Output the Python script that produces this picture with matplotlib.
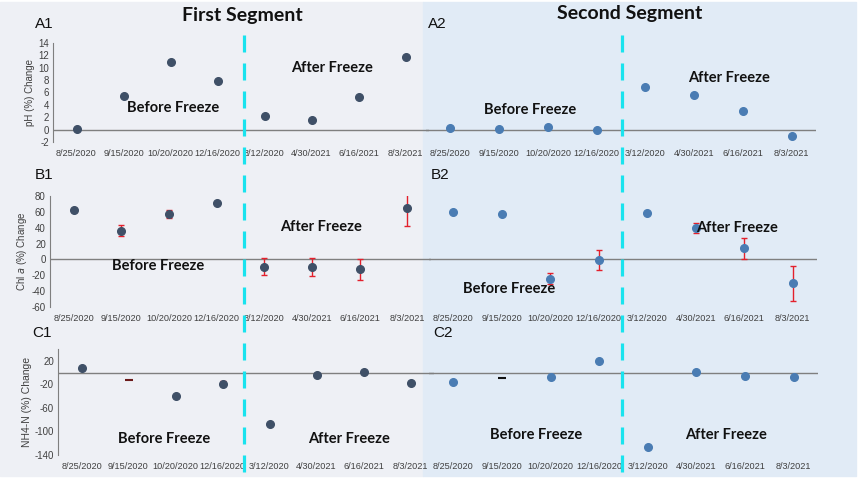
import matplotlib.pyplot as plt
from matplotlib.patches import Rectangle
from matplotlib.lines import Line2D

# sampling dates (x categories)
dates = ["8/25/2020", "9/15/2020", "10/20/2020", "12/16/2020",
         "3/12/2020", "4/30/2021", "6/16/2021", "8/3/2021"]

# pH (%) change
ph_first = [0.1, 5.5, 11.0, 7.9, 2.2, 1.6, 5.2, 11.7]
ph_second = [0.3, 0.1, 0.5, -0.1, 6.9, 5.6, 3.0, -1.1]

# Chl a (%) change and error
chl_first = [62.2, 36.2, 57.1, 70.6, -9.2, -9.2, -12.6, 64.7]
chl_first_err = [3, 7, 5, 0, 11, 11.5, 13, 22]
chl_second = [59.3, 57.6, -24.3, -1.3, 58.4, 39.5, 13.9, -30.3]
chl_second_err = [0, 0, 7, 12.6, 0, 6, 13.5, 21.6]

# NH4-N (%) change and error
nh4_first = [8.2, -12.2, -40.4, -19.0, -86.9, -4.2, 0.3, -18.4]
nh4_first_err = [0, 0, 3, 4, 0, 0, 0, 0]
nh4_second = [-15.8, -9.9, -7.9, 20.0, -126.0, 1.0, -5.0, -7.9]
nh4_second_err = [0, 0, 2, 0, 0, 0, 0, 0]

# points shown only as a dash (no dot)
dash_only = [1]

W, H = 858, 484
fig = plt.figure(figsize=(W / 100, H / 100), dpi=100)
fig.patch.set_facecolor("white")


def px_rect(l, r, t, b):
    return [l / W, 1 - b / H, (r - l) / W, (b - t) / H]


def fx(x):
    return x / W


def fy(y):
    return 1 - y / H


# panel backgrounds
fig.add_artist(Rectangle((0, fy(476)), fx(423), fy(2) - fy(476),
                         transform=fig.transFigure, color="#eef0f5", zorder=-5))
fig.add_artist(Rectangle((fx(423), fy(476)), fx(856) - fx(423), fy(2) - fy(476),
                         transform=fig.transFigure, color="#e1ebf6", zorder=-5))

DARK = "#3f5067"
BLUE = "#4a7cb3"
RED = "#e3202c"
GREY = "#7f7f7f"
TXT = "#404040"
BOLD_FONT = "Lato"

panels = [
    # values, err, rect, ylim, yticks, ylabel, color, left side
    (ph_first, None, (53, 429, 43, 142), (-2, 14), range(-2, 15, 2), "pH (%) Change", DARK, True),
    (ph_second, None, (426, 816, 43, 142), (-2, 14), range(-2, 15, 2), None, BLUE, False),
    (chl_first, chl_first_err, (50, 431, 196, 307), (-60, 80), range(-60, 81, 20),
     r"Chl $\it{a}$ (%) Change", DARK, True),
    (chl_second, chl_second_err, (429, 817, 196, 307), (-60, 80), range(-60, 81, 20), None, BLUE, False),
    (nh4_first, nh4_first_err, (58, 434, 349, 455), (-140, 40), [20, -20, -60, -100, -140],
     "NH4-N (%) Change", DARK, True),
    (nh4_second, nh4_second_err, (429, 818, 349, 455), (-140, 40), [20, -20, -60, -100, -140], None, BLUE, False),
]

xs = list(range(len(dates)))
for i, (vals, err, rect, ylim, yticks, ylabel, color, left) in enumerate(panels):
    ax = fig.add_axes(px_rect(*rect))
    ax.set_facecolor("none")
    ax.set_xlim(-0.5, len(dates) - 0.5)
    ax.set_ylim(*ylim)
    ax.axhline(0, color=GREY, lw=1, zorder=1)
    for s in ["top", "right", "bottom"]:
        ax.spines[s].set_visible(False)
    ax.set_xticks(xs)
    ax.set_xticklabels(dates, fontsize=6.6, color=TXT, family="Liberation Sans")
    ax.tick_params(axis="x", length=0, pad=5)
    if left:
        ax.spines["left"].set_color(GREY)
        ax.set_yticks(list(yticks))
        ax.set_yticklabels([str(t) for t in yticks], fontsize=7, color=TXT,
                           family="Liberation Sans")
        ax.tick_params(axis="y", length=0, pad=3)
        ax.set_ylabel(ylabel, fontsize=7 if i < 4 else 7.5, color=TXT,
                      family="Liberation Sans", labelpad=2)
    else:
        ax.spines["left"].set_visible(False)
        ax.set_yticks([])

    dot_x = [x for x in xs if not (i >= 4 and x in dash_only)]
    dot_y = [vals[x] for x in dot_x]
    if err is not None:
        ex = [x for x in xs if err[x] > 0]
        ax.errorbar(ex, [vals[x] for x in ex], yerr=[err[x] for x in ex], fmt="none",
                    ecolor=RED, elinewidth=1, capsize=2, capthick=1, zorder=2)
    ax.plot(dot_x, dot_y, "o", color=color, ms=5.5, zorder=3, ls="none")
    if i >= 4:
        dash_col = "#6b1a1a" if left else "#111111"
        ax.plot(dash_only, [vals[x] for x in dash_only], marker="_", color=dash_col,
                ms=6, mew=1.5, ls="none", zorder=3)

# panel letters
for lbl, x, y in [("A1", 35, 24), ("A2", 428, 24), ("B1", 35, 175), ("B2", 431, 175),
                  ("C1", 32, 333), ("C2", 433, 333)]:
    fig.text(fx(x), fy(y), lbl, fontsize=11, family="Liberation Sans", color="#111111",
             ha="left", va="center")

# segment titles
fig.text(fx(242), fy(15), "First Segment", fontsize=14, fontweight="bold",
         family=BOLD_FONT, ha="center", va="center", color="#111111")
fig.text(fx(630), fy(14), "Second Segment", fontsize=14, fontweight="bold",
         family=BOLD_FONT, ha="center", va="center", color="#111111")

# before / after freeze labels
freeze_labels = [
    ("Before Freeze", 173, 108), ("After Freeze", 332, 68),
    ("Before Freeze", 530, 110), ("After Freeze", 729, 78),
    ("Before Freeze", 158, 266), ("After Freeze", 321, 227),
    ("Before Freeze", 509, 289), ("After Freeze", 737, 228),
    ("Before Freeze", 164, 439), ("After Freeze", 349, 439),
    ("Before Freeze", 536, 435), ("After Freeze", 726, 435),
]
for lbl, x, y in freeze_labels:
    fig.text(fx(x), fy(y), lbl, fontsize=10.5, fontweight="bold", family=BOLD_FONT,
             ha="center", va="center", color="#111111", zorder=5)

# freeze divider lines
lw = 2.3
for x in [244, 622]:
    fig.add_artist(Line2D([fx(x), fx(x)], [fy(35), fy(480)], transform=fig.transFigure,
                          color="#19e3ee", lw=lw,
                          dashes=(17 * 0.72 / lw, 11 * 0.72 / lw), zorder=4))

fig.savefig("out.png", dpi=100)
